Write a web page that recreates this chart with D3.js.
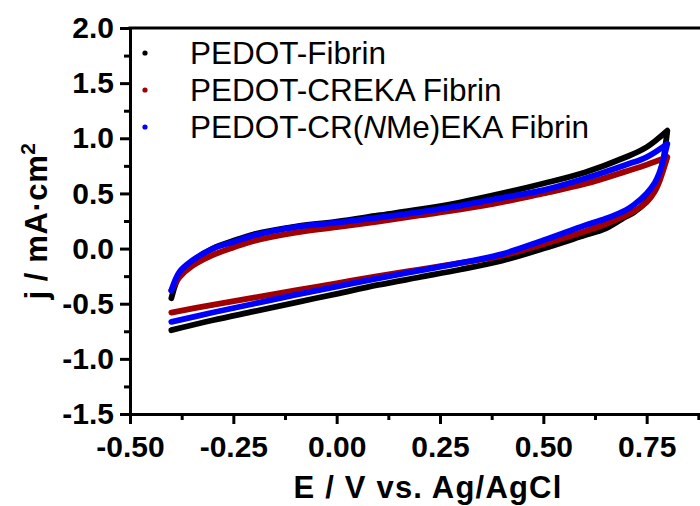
<!DOCTYPE html>
<html>
<head>
<meta charset="utf-8">
<script src="https://cdn.jsdelivr.net/npm/d3@7"></script>
<style>
  html, body { margin: 0; padding: 0; background: #fff; }
  svg { display: block; }
  .tick text { font-family: "Liberation Sans", Arial, sans-serif; font-weight: bold; }
</style>
</head>
<body>
<svg id="chart" width="700" height="506"></svg>
<script>
// Cyclic voltammograms: forward (anodic) scan from -0.4 V to 0.8 V, then reverse scan back.
const seriesNames = ["PEDOT-Fibrin", "PEDOT-CREKA Fibrin", "PEDOT-CR(NMe)EKA Fibrin"];
const seriesColors = ["#000000", "#a00000", "#0000ff"];

const forwardE = [-0.4, -0.38, -0.35, -0.3, -0.25, -0.2, -0.1, 0.0, 0.1, 0.2, 0.3, 0.4, 0.5, 0.6, 0.7, 0.75, 0.8];
const fibrinForward = [-0.45, -0.24, -0.12, 0.0, 0.07, 0.13, 0.2, 0.245, 0.3, 0.355, 0.42, 0.5, 0.59, 0.69, 0.83, 0.92, 1.07];
const crekaForward  = [-0.38, -0.26, -0.16, -0.06, 0.01, 0.07, 0.145, 0.195, 0.245, 0.3, 0.355, 0.42, 0.5, 0.585, 0.70, 0.76, 0.83];
const nmeForward    = [-0.38, -0.21, -0.11, 0.0, 0.06, 0.12, 0.195, 0.235, 0.28, 0.33, 0.39, 0.46, 0.53, 0.635, 0.76, 0.83, 0.95];

const reverseE = [0.8, 0.79, 0.78, 0.77, 0.75, 0.72, 0.7, 0.65, 0.6, 0.5, 0.4, 0.3, 0.2, 0.1, 0.0, -0.1, -0.2, -0.3, -0.4];
const fibrinReverse = [1.07, 0.8, 0.65, 0.55, 0.43, 0.33, 0.29, 0.18, 0.12, 0.0, -0.11, -0.19, -0.26, -0.33, -0.41, -0.49, -0.57, -0.65, -0.74];
const crekaReverse  = [0.83, 0.71, 0.6, 0.52, 0.42, 0.34, 0.3, 0.22, 0.155, 0.04, -0.065, -0.13, -0.19, -0.25, -0.315, -0.38, -0.445, -0.51, -0.58];
const nmeReverse    = [0.95, 0.8, 0.68, 0.6, 0.5, 0.4, 0.35, 0.27, 0.21, 0.075, -0.05, -0.13, -0.2, -0.27, -0.345, -0.42, -0.5, -0.58, -0.665];

const xMajorTicks = [-0.5, -0.25, 0.0, 0.25, 0.5, 0.75];
const xMinorTicks = [-0.375, -0.125, 0.125, 0.375, 0.625, 0.875];
const yMajorTicks = [-1.5, -1.0, -0.5, 0.0, 0.5, 1.0, 1.5, 2.0];
const yMinorTicks = [-1.25, -0.75, -0.25, 0.25, 0.75, 1.25, 1.75];

const svg = d3.select("#chart");
const font = '"Liberation Sans", Arial, sans-serif';

const x = d3.scaleLinear().domain([-0.5, 1.0]).range([130, 750]);
const y = d3.scaleLinear().domain([-1.5, 2.0]).range([414, 28]);

function loop(fwd, rev) {
  return forwardE.map((e, i) => [e, fwd[i]]).concat(reverseE.map((e, i) => [e, rev[i]]));
}
const curves = [
  loop(fibrinForward, fibrinReverse),
  loop(crekaForward, crekaReverse),
  loop(nmeForward, nmeReverse)
];

const line = d3.line()
  .x(d => x(d[0]))
  .y(d => y(d[1]))
  .curve(d3.curveCatmullRom.alpha(0.5));

const plot = svg.append("g");
curves.forEach((c, i) => {
  plot.append("path")
    .attr("d", line(c))
    .attr("fill", "none")
    .attr("stroke", seriesColors[i])
    .attr("stroke-width", 5.8)
    .attr("stroke-linecap", "round")
    .attr("stroke-linejoin", "round");
});

// Axes
const fmtX = d3.format(".2f");
const fmtY = d3.format(".1f");
const minus = s => s.replace("\u2212", "-");

const xAxis = svg.append("g").attr("transform", "translate(0,414)")
  .call(d3.axisBottom(x).tickValues(xMajorTicks).tickSize(10).tickPadding(12)
    .tickFormat(d => minus(fmtX(d))));
const xMinor = svg.append("g").attr("transform", "translate(0,414)")
  .call(d3.axisBottom(x).tickValues(xMinorTicks).tickSize(6).tickFormat(""));
const yAxis = svg.append("g").attr("transform", "translate(130,0)")
  .call(d3.axisLeft(y).tickValues(yMajorTicks).tickSize(10).tickPadding(6)
    .tickFormat(d => minus(fmtY(d))));
const yMinor = svg.append("g").attr("transform", "translate(130,0)")
  .call(d3.axisLeft(y).tickValues(yMinorTicks).tickSize(6).tickFormat(""));

[xAxis, xMinor, yAxis, yMinor].forEach(g => {
  g.select(".domain").attr("stroke", "#000").attr("stroke-width", 3);
  g.selectAll(".tick line").attr("stroke", "#000").attr("stroke-width", 3);
  g.selectAll(".tick text").attr("font-size", 30).attr("font-family", font)
    .attr("font-weight", "bold").attr("fill", "#000");
});
xMinor.select(".domain").remove();
yMinor.select(".domain").remove();

// top frame line
svg.append("line")
  .attr("x1", 128.5).attr("x2", 700).attr("y1", y(2.0)).attr("y2", y(2.0))
  .attr("stroke", "#000").attr("stroke-width", 3);

// Axis titles
svg.append("text")
  .attr("x", 428).attr("y", 498)
  .attr("text-anchor", "middle")
  .attr("font-family", font).attr("font-weight", "bold").attr("font-size", 31)
  .attr("letter-spacing", 1.2)
  .text("E / V vs. Ag/AgCl");

const yTitle = svg.append("text")
  .attr("transform", "translate(47,221) rotate(-90)")
  .attr("text-anchor", "middle")
  .attr("font-family", font).attr("font-weight", "bold").attr("font-size", 31)
  .attr("letter-spacing", 0.6);
yTitle.append("tspan").text("j / mA\u00b7cm");
yTitle.append("tspan").attr("dy", -12).attr("font-size", 21).text("2");

// Legend
const legendY = [53, 90, 127];
const legend = svg.append("g");
seriesNames.forEach((name, i) => {
  legend.append("circle")
    .attr("cx", 145).attr("cy", legendY[i]).attr("r", 2.6)
    .attr("fill", seriesColors[i]);
  const t = legend.append("text")
    .attr("x", 190).attr("y", legendY[i] + 11)
    .attr("font-family", font).attr("font-size", 31.5).attr("fill", "#000");
  if (name.includes("(NMe)")) {
    const [pre, post] = name.split("(NMe)");
    t.append("tspan").text(pre + "(");
    t.append("tspan").attr("font-style", "italic").text("N");
    t.append("tspan").text("Me)" + post);
  } else {
    t.text(name);
  }
});
</script>
</body>
</html>
